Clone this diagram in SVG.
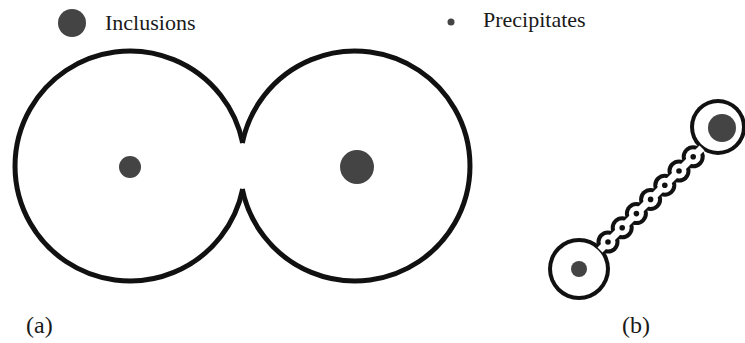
<svg xmlns="http://www.w3.org/2000/svg" width="745" height="343" viewBox="0 0 745 343">
<style>
.lbl{font-family:"Liberation Serif","Times New Roman",serif;font-size:22px;fill:#1a1a1a}
.sub{font-size:24px}
.dot{fill:#444}
.ring{fill:none;stroke:#111;stroke-width:5}
.bo{fill:#111}
.wh{fill:#fff}
</style>
<rect width="745" height="343" fill="#fff"/>
<g id="legend">
<circle class="dot" cx="72" cy="23" r="14"/>
<text class="lbl" x="105" y="30">Inclusions</text>
<circle class="dot" cx="451" cy="22" r="3.5"/>
<text class="lbl" x="483" y="27">Precipitates</text>
</g>
<g id="grain-a">
<path class="ring" d="M242.7,143 A115,115 0 1 0 242.7,189"/>
<path class="ring" d="M242.3,143 A115,115 0 1 1 242.3,189"/>
<circle class="dot" cx="130" cy="167" r="11"/>
<circle class="dot" cx="357" cy="167" r="17"/>
</g>
<g id="grain-b">
<g class="bo">
<circle cx="718" cy="127" r="28"/>
<circle cx="579" cy="269" r="31"/>
<circle cx="608" cy="242" r="11.5"/>
<circle cx="622.2" cy="227.8" r="11.5"/>
<circle cx="636.4" cy="213.6" r="11.5"/>
<circle cx="650.6" cy="199.4" r="11.5"/>
<circle cx="664.8" cy="185.2" r="11.5"/>
<circle cx="679" cy="171" r="11.5"/>
<circle cx="693.2" cy="156.8" r="11.5"/>
</g>
<g class="wh">
<circle cx="718" cy="127" r="24"/>
<circle cx="579" cy="269" r="27"/>
<line x1="600" y1="250" x2="702" y2="148" stroke="#fff" stroke-width="7"/>
<circle cx="608" cy="242" r="7.5"/>
<circle cx="622.2" cy="227.8" r="7.5"/>
<circle cx="636.4" cy="213.6" r="7.5"/>
<circle cx="650.6" cy="199.4" r="7.5"/>
<circle cx="664.8" cy="185.2" r="7.5"/>
<circle cx="679" cy="171" r="7.5"/>
<circle cx="693.2" cy="156.8" r="7.5"/>
</g>
<g class="bo">
<circle cx="608" cy="242" r="2.8"/>
<circle cx="622.2" cy="227.8" r="2.8"/>
<circle cx="636.4" cy="213.6" r="2.8"/>
<circle cx="650.6" cy="199.4" r="2.8"/>
<circle cx="664.8" cy="185.2" r="2.8"/>
<circle cx="679" cy="171" r="2.8"/>
<circle cx="693.2" cy="156.8" r="2.8"/>
</g>
<circle class="dot" cx="722" cy="128" r="14"/>
<circle class="dot" cx="579" cy="269" r="8"/>
</g>
<g id="labels">
<text class="lbl sub" x="26" y="333">(a)</text>
<text class="lbl sub" x="622" y="333">(b)</text>
</g>
</svg>
